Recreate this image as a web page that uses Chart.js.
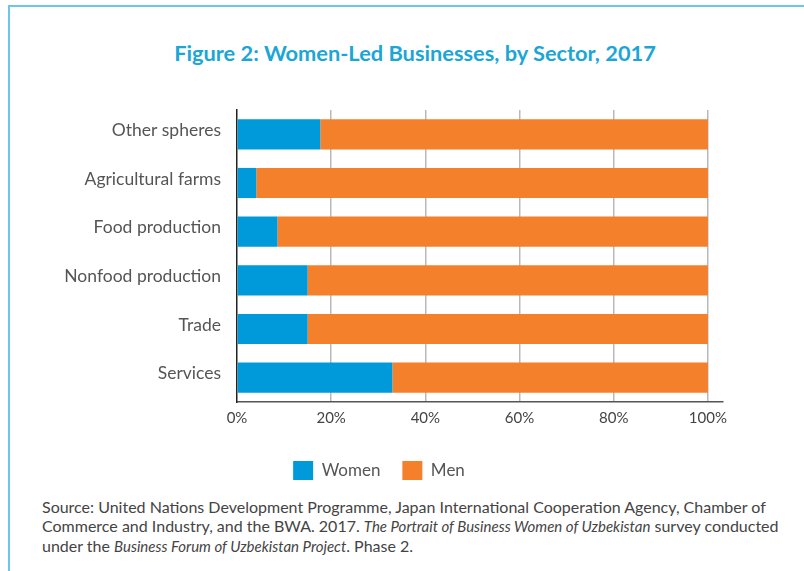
<!DOCTYPE html>
<html>
<head>
<meta charset="utf-8">
<script src="https://cdn.jsdelivr.net/npm/chart.js@4/dist/chart.umd.min.js"></script>
<style>
  body { margin: 0; background: #fff; width: 804px; height: 571px; overflow: hidden; position: relative; font-family: Lato, "Open Sans", sans-serif; }
  #frame { position: absolute; left: 8px; top: 5px; right: -10px; bottom: -10px; border-left: 2px solid #6cc6ea; border-top: 2px solid #6cc6ea; }
  #title { position: absolute; left: 0; width: 830px; top: 39px; text-align: center; font-size: 21.8px; font-weight: bold; color: #1ba6d6; }
  #wrap { position: absolute; left: 0; top: 0; width: 760px; height: 490px; }
  #source { position: absolute; left: 42px; top: 497px; font-size: 16px; line-height: 19px; color: #444; white-space: nowrap; }
  #source i { font-size: 15px; }
</style>
</head>
<body>
<div id="frame"></div>
<div id="title">Figure 2: Women-Led Businesses, by Sector, 2017</div>
<div id="wrap"><canvas id="chart"></canvas></div>
<div id="source">Source: United Nations Development Programme, Japan International Cooperation Agency, Chamber of<br>Commerce and Industry, and the BWA. 2017. <i>The Portrait of Business Women of Uzbekistan</i> survey conducted<br>under the <i>Business Forum of Uzbekistan Project</i>. Phase 2.</div>
<script>
const sectors = ['Other spheres', 'Agricultural farms', 'Food production', 'Nonfood production', 'Trade', 'Services'];
const women = [17.7, 4.1, 8.6, 15.0, 15.0, 33.0];
const men = [82.3, 95.9, 91.4, 85.0, 85.0, 67.0];
const xTicks = [0, 20, 40, 60, 80, 100];

new Chart(document.getElementById('chart'), {
  type: 'bar',
  data: {
    labels: sectors,
    datasets: [
      { label: 'Women', data: women, backgroundColor: '#0099d9', borderWidth: 0 },
      { label: 'Men', data: men, backgroundColor: '#f4802b', borderWidth: 0 }
    ]
  },
  options: {
    indexAxis: 'y',
    responsive: true,
    maintainAspectRatio: false,
    animation: false,
    layout: { padding: { left: 35, right: 37, top: 110, bottom: 0 } },
    datasets: { bar: { categoryPercentage: 1, barPercentage: 0.62 } },
    scales: {
      x: {
        stacked: true,
        min: 0,
        max: 103.2,
        afterBuildTicks: s => { s.ticks = xTicks.map(v => ({ value: v })); },
        afterFit: s => { s.height = 37; },
        grid: {
          drawTicks: false,
          color: ctx => ctx.tick && ctx.tick.value === 0 ? 'rgba(0,0,0,0)' : '#b9b9b9',
          lineWidth: 1.5
        },
        border: { color: '#555', width: 1.5 },
        ticks: {
          padding: 7,
          color: '#444',
          font: { family: 'Lato', size: 15 },
          callback: v => v + '%'
        }
      },
      y: {
        stacked: true,
        afterFit: s => { s.width = 202; },
        grid: { display: false, drawTicks: false },
        border: { color: '#222', width: 1.5 },
        ticks: {
          padding: 16,
          labelOffset: -4,
          color: '#555',
          font: { family: 'Lato', size: 17.5 }
        }
      }
    },
    plugins: {
      title: { display: false },
      tooltip: { enabled: false },
      legend: {
        position: 'bottom',
        labels: {
          boxWidth: 20,
          boxHeight: 19,
          padding: 22,
          color: '#555',
          font: { family: 'Lato', size: 17 }
        }
      }
    }
  }
});
</script>
</body>
</html>
